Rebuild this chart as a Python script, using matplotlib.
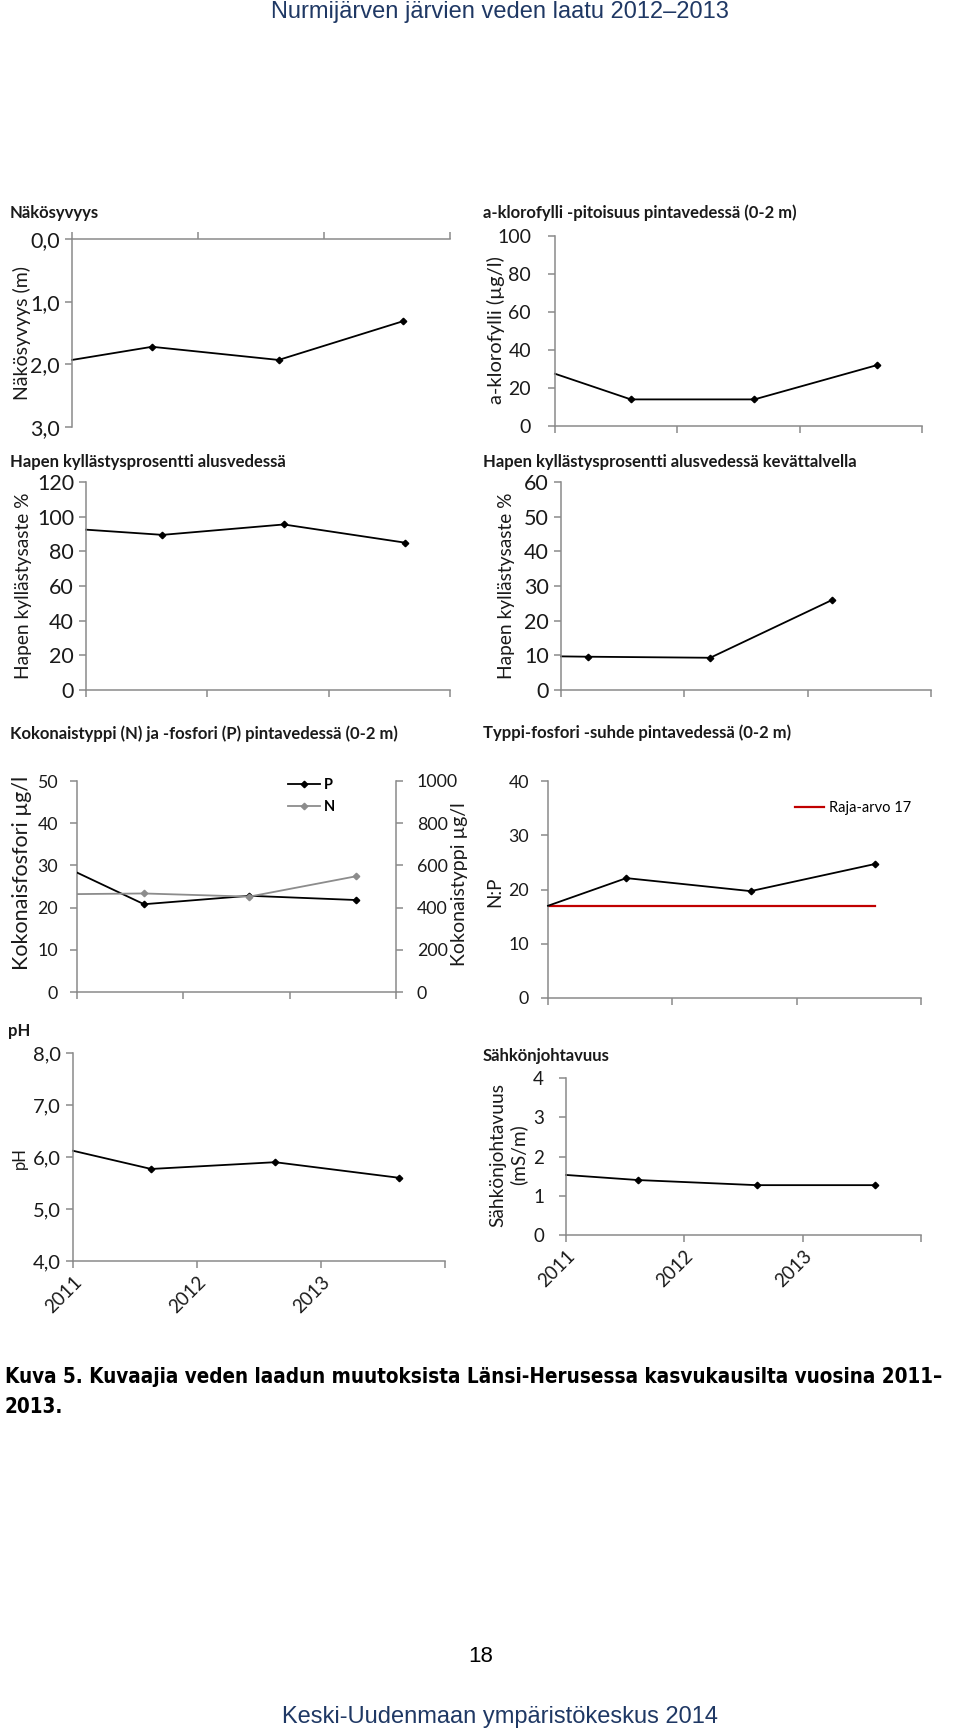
import matplotlib
matplotlib.use("Agg")
import matplotlib.pyplot as plt
from matplotlib.ticker import FixedLocator, FuncFormatter

# ---------------- data ----------------
years = [2011, 2012, 2013, 2014]
year_labels = ["2011", "2012", "2013", ""]

# sampling times (fractional years); first value sits on the axis start
x_secchi = [2011.0, 2011.635, 2012.64, 2013.63]
secchi = [1.93, 1.72, 1.93, 1.31]

x_chl = [2011.0, 2011.62, 2012.63, 2013.63]
chl = [27.5, 14.0, 14.0, 32.0]

x_o2 = [2011.0, 2011.63, 2012.63, 2013.63]
o2_summer = [92.5, 89.5, 95.5, 85.0]

x_o2w = [2011.0, 2011.22, 2012.21, 2013.20]
o2_winter = [9.7, 9.6, 9.3, 26.0]

x_np = [2011.0, 2011.63, 2012.62, 2013.62]
tot_p = [28.3, 20.8, 22.8, 21.8]
tot_n = [464, 467, 452, 548]

x_ratio = [2011.0, 2011.63, 2012.63, 2013.63]
np_ratio = [17.0, 22.1, 19.7, 24.7]
limit_val = [17, 17, 17, 17]

x_ph = [2011.0, 2011.63, 2012.63, 2013.63]
ph = [6.12, 5.77, 5.90, 5.60]

x_cond = [2011.0, 2011.61, 2012.61, 2013.61]
cond = [1.53, 1.40, 1.27, 1.27]

# ---------------- layout ----------------
W, H = 960, 1730
fig = plt.figure(figsize=(W / 100, H / 100), dpi=100)
FONT = ["Lato", "DejaVu Sans"]
plt.rcParams["font.family"] = FONT
GRAY = "#8a8a8a"
TXT = "#1a1a1a"
TITLE_FS = 12.0
LAB_FS = 13


def px_axes(l, t, r, b):
    return fig.add_axes([l / W, 1 - b / H, (r - l) / W, (b - t) / H])


def style(ax, ypad_px, tick_fs, top=False):
    ax.spines["right"].set_visible(False)
    if top:
        ax.spines["bottom"].set_visible(False)
        ax.xaxis.tick_top()
    else:
        ax.spines["top"].set_visible(False)
    for s in ["left", "bottom", "top"]:
        ax.spines[s].set_color(GRAY)
        ax.spines[s].set_linewidth(1.1)
    ax.tick_params(axis="both", direction="out", length=5, width=1.1,
                   color=GRAY, labelsize=tick_fs, labelcolor=TXT)
    ax.tick_params(axis="y", pad=(ypad_px - 5) / 1.389)
    ax.set_xlim(years[0], years[-1])
    ax.xaxis.set_major_locator(FixedLocator(years))
    ax.set_xticklabels([])
    ax.patch.set_alpha(0)


MS = 3.3


def series(ax, x, y, color="black", **kw):
    ax.plot(x, y, color=color, lw=1.3, marker="D", ms=MS,
            markevery=list(range(1, len(x))), clip_on=False, **kw)


def title(x, y, s):
    fig.text(x / W, 1 - y / H, s, fontsize=TITLE_FS, color=TXT,
             ha="left", va="center", fontweight="bold")


def ylab(x, y, s, fs=LAB_FS):
    fig.text(x / W, 1 - y / H, s, fontsize=fs, color=TXT, rotation=90,
             ha="center", va="center", multialignment="center")


comma1 = FuncFormatter(lambda v, p: f"{v:.1f}".replace(".", ","))

# Panel 1: Näkösyvyys
ax = px_axes(72, 239, 450, 427)
style(ax, 10, 15.5, top=True)
ax.set_ylim(3, 0)
ax.set_yticks([0, 1, 2, 3])
ax.yaxis.set_major_formatter(comma1)
series(ax, x_secchi, secchi)
title(10, 213, "Näkösyvyys")
ylab(22, 333, "Näkösyvyys (m)", fs=14)

# Panel 2: a-klorofylli
ax = px_axes(555, 236, 922, 426)
style(ax, 22, 14)
ax.set_ylim(0, 100)
ax.set_yticks(range(0, 101, 20))
series(ax, x_chl, chl)
title(483, 213, "a-klorofylli -pitoisuus pintavedessä (0-2 m)")
ylab(496, 330, "a-klorofylli (µg/l)", fs=14.5)

# Panel 3: happi alusvesi
ax = px_axes(86, 482, 450, 690)
style(ax, 10, 15.5)
ax.set_ylim(0, 120)
ax.set_yticks(range(0, 121, 20))
series(ax, x_o2, o2_summer)
title(10, 462, "Hapen kyllästysprosentti alusvedessä")
ylab(24, 586, "Hapen kyllästysaste %", fs=13.8)

# Panel 4: happi kevättalvi
ax = px_axes(561, 482, 931, 690)
style(ax, 10, 15.5)
ax.set_ylim(0, 60)
ax.set_yticks(range(0, 61, 10))
series(ax, x_o2w, o2_winter)
title(483, 462, "Hapen kyllästysprosentti alusvedessä kevättalvella")
ylab(507, 586, "Hapen kyllästysaste %", fs=13.8)

# Panel 5: N & P
ax = px_axes(77, 781, 396, 992)
style(ax, 17, 12.8)
ax.set_ylim(0, 50)
ax.set_yticks(range(0, 51, 10))
ax2 = ax.twinx()
for s in ["left", "top", "bottom"]:
    ax2.spines[s].set_visible(False)
ax2.spines["right"].set_color(GRAY)
ax2.spines["right"].set_linewidth(1.1)
ax2.set_ylim(0, 1000)
ax2.set_yticks(range(0, 1001, 200))
ax2.tick_params(axis="y", direction="out", length=5, width=1.1, color=GRAY,
                labelsize=12.8, labelcolor=TXT, pad=(19 - 5) / 1.389)
lp, = ax.plot(x_np, tot_p, color="black", lw=1.3, marker="D", ms=MS,
              markevery=[1, 2, 3], label="P", zorder=3)
ln, = ax2.plot(x_np, tot_n, color="#8c8c8c", lw=1.3, marker="D", ms=MS,
               markevery=[1, 2, 3], label="N", zorder=2)
fig.legend(handles=[lp, ln], loc="center left",
           bbox_to_anchor=(288 / W, 1 - 796 / H), frameon=False,
           prop={"size": 10.5, "weight": "bold"}, handlelength=2.2,
           handletextpad=0.25, labelspacing=0.5, borderpad=0,
           borderaxespad=0)
title(10, 734, "Kokonaistyppi (N) ja -fosfori (P) pintavedessä (0-2 m)")
ylab(22, 873, "Kokonaisfosfori µg/l", fs=15.5)
ylab(459, 884, "Kokonaistyppi µg/l", fs=14)

# Panel 6: N:P
ax = px_axes(548, 781, 921, 998)
style(ax, 17, 12.8)
ax.set_ylim(0, 40)
ax.set_yticks(range(0, 41, 10))
h, = ax.plot(x_ratio, limit_val, color="#c00000", lw=1.6,
             label="Raja-arvo 17", zorder=2)
series(ax, x_ratio, np_ratio, zorder=3)
fig.legend(handles=[h], loc="center left",
           bbox_to_anchor=(795 / W, 1 - 808 / H), frameon=False,
           fontsize=10.5, handlelength=2.0, handletextpad=0.35,
           borderpad=0, borderaxespad=0)
title(483, 733, "Typpi-fosfori -suhde pintavedessä (0-2 m)")
ylab(495, 892, "N:P", fs=13.5)

# Panel 7: pH
ax = px_axes(73, 1053, 445, 1261)
style(ax, 10, 14.5)
ax.set_ylim(4, 8)
ax.set_yticks([4, 5, 6, 7, 8])
ax.yaxis.set_major_formatter(comma1)
series(ax, x_ph, ph)
ax.set_xticklabels(year_labels, rotation=45, ha="right",
                   rotation_mode="anchor", fontsize=13.5)
ax.tick_params(axis="x", pad=4)
fig.text(8 / W, 1 - 1031 / H, "pH", fontsize=TITLE_FS, color=TXT,
         ha="left", va="center", fontweight="bold")
ylab(20, 1158, "pH", fs=12)

# Panel 8: Sähkönjohtavuus
ax = px_axes(566, 1078, 921, 1235)
style(ax, 20, 13.5)
ax.set_ylim(0, 4)
ax.set_yticks([0, 1, 2, 3, 4])
series(ax, x_cond, cond)
ax.set_xticklabels(year_labels, rotation=45, ha="right",
                   rotation_mode="anchor", fontsize=13.5)
ax.tick_params(axis="x", pad=4)
title(483, 1056, "Sähkönjohtavuus")
ylab(508, 1155, "Sähkönjohtavuus\n(mS/m)", fs=13.8)

# ---------------- page texts ----------------
NAVY = "#1f3864"
SANS = ["Liberation Sans", "DejaVu Sans"]
fig.text(500 / W, 1 - 12 / H, "Nurmijärven järvien veden laatu 2012–2013",
         fontsize=17, color=NAVY, ha="center", va="center", family=SANS)
fig.text(500 / W, 1 - 1717 / H, "Keski-Uudenmaan ympäristökeskus 2014",
         fontsize=17, color=NAVY, ha="center", va="center", family=SANS)
fig.text(481 / W, 1 - 1657 / H, "18", fontsize=16, color="black",
         ha="center", va="center", family=SANS)

cap1 = fig.text(5 / W, 1 - 1377 / H,
                "Kuva 5. Kuvaajia veden laadun muutoksista Länsi-Herusessa "
                "kasvukausilta vuosina 2011–",
                fontsize=12, fontweight="bold", fontstretch="condensed",
                color="black", ha="left", va="center",
                family=["DejaVu Sans"])
fig.canvas.draw()
r = fig.canvas.get_renderer()
wpx = cap1.get_window_extent(r).width
fs = 12 * 935 / wpx
cap1.set_fontsize(fs)
fig.text(5 / W, 1 - 1407 / H, "2013.", fontsize=fs, fontweight="bold",
         fontstretch="condensed", color="black", ha="left", va="center",
         family=["DejaVu Sans"])

fig.savefig("out.png", dpi=100, facecolor="white")
